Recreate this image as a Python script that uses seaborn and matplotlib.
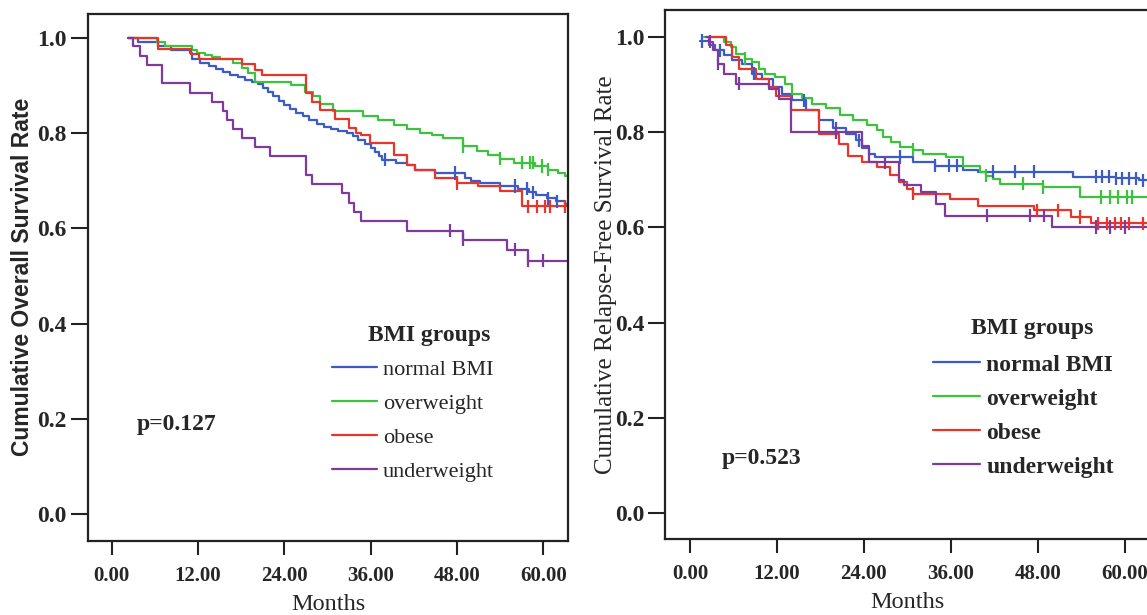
import numpy as np
import pandas as pd
import matplotlib
matplotlib.use("Agg")
import matplotlib.pyplot as plt
import seaborn as sns
from matplotlib.lines import Line2D

# ---------------- data ----------------
groups = ["normal BMI", "overweight", "obese", "underweight"]
colors = ["#3B5BC6", "#3DC23F", "#E8352C", "#7E3A9C"]

# Overall survival (left panel)
os_normal_t = [2.2, 3.6, 6.5, 8.3, 10.9, 11.2, 12.3, 13.5, 14.5, 15.5, 16.5, 17.5, 18.5, 19.5, 20.3,
               21.0, 21.8, 22.5, 23.2, 23.9, 24.8, 25.6, 26.6, 27.5, 28.5, 29.5, 30.5, 31.5, 32.7, 33.6,
               34.3, 35.2, 36.0, 36.6, 37.2, 37.6, 39.5, 41.0, 42.2, 45.0, 49.1, 50.0, 51.2, 54.0, 56.5,
               58.0, 59.0, 60.5, 61.8, 63.0]
os_normal_s = [1.0, 0.992, 0.982, 0.975, 0.968, 0.955, 0.947, 0.940, 0.934, 0.928, 0.922, 0.917, 0.912, 0.908, 0.902,
               0.895, 0.887, 0.878, 0.868, 0.859, 0.850, 0.843, 0.835, 0.828, 0.819, 0.813, 0.808, 0.805, 0.800, 0.793,
               0.786, 0.778, 0.768, 0.760, 0.751, 0.744, 0.738, 0.732, 0.723, 0.716, 0.705, 0.700, 0.695, 0.689, 0.683,
               0.676, 0.670, 0.663, 0.657, 0.652]
os_normal_c = [38.0, 47.7, 56.1, 57.7, 58.6, 60.7, 61.9]

os_over_t = [2.2, 6.3, 7.4, 11.1, 11.8, 13.0, 13.9, 15.0, 16.9, 18.1, 19.0, 19.9, 25.0, 26.9, 28.0,
             28.9, 30.8, 35.0, 37.1, 39.2, 41.0, 42.9, 44.5, 46.1, 48.9, 50.8, 52.4, 54.0, 55.9, 58.8,
             60.7, 62.0, 63.0]
os_over_s = [1.0, 0.992, 0.982, 0.975, 0.969, 0.964, 0.960, 0.955, 0.947, 0.936, 0.926, 0.908, 0.901, 0.887, 0.877,
             0.860, 0.847, 0.835, 0.827, 0.817, 0.808, 0.800, 0.795, 0.789, 0.772, 0.762, 0.754, 0.746, 0.738, 0.731,
             0.723, 0.717, 0.710]
os_over_c = [48.9, 54.0, 57.0, 58.2, 58.6, 59.8, 60.7]

os_obese_t = [2.2, 6.5, 11.0, 12.2, 18.1, 19.9, 20.9, 27.0, 27.9, 28.9, 31.1, 33.0, 34.0, 34.6, 35.9,
              39.2, 41.0, 42.2, 45.0, 48.0, 51.0, 54.0, 57.0]
os_obese_s = [1.0, 0.977, 0.966, 0.955, 0.946, 0.933, 0.922, 0.884, 0.866, 0.849, 0.829, 0.810, 0.800, 0.796, 0.779,
              0.754, 0.733, 0.723, 0.705, 0.695, 0.688, 0.678, 0.646]
os_obese_c = [48.0, 57.9, 59.1, 60.3, 61.0, 63.0]

os_under_t = [2.2, 2.9, 3.9, 4.9, 7.0, 10.9, 13.9, 15.5, 16.0, 16.9, 18.1, 19.9, 22.0, 27.0, 27.9,
              32.0, 33.0, 33.7, 34.7, 41.1, 48.9, 55.0, 57.9]
os_under_s = [1.0, 0.982, 0.961, 0.943, 0.905, 0.885, 0.866, 0.847, 0.828, 0.809, 0.789, 0.770, 0.751, 0.712, 0.693,
              0.674, 0.654, 0.635, 0.616, 0.595, 0.576, 0.555, 0.532]
os_under_c = [47.0, 48.9, 56.1, 57.9, 60.0]

# Relapse-free survival (right panel)
rfs_normal_t = [1.4, 2.6, 3.5, 4.7, 5.8, 7.2, 8.6, 10.0, 11.4, 12.7, 14.1, 16.0, 17.8, 19.7, 21.5,
                22.9, 23.8, 24.7, 25.5, 30.8, 33.8, 37.7, 39.8, 52.9, 58.8, 62.0]
rfs_normal_s = [0.992, 0.983, 0.972, 0.962, 0.951, 0.944, 0.923, 0.913, 0.895, 0.881, 0.867, 0.846, 0.825, 0.808, 0.797,
                0.783, 0.766, 0.755, 0.748, 0.737, 0.730, 0.720, 0.717, 0.707, 0.703, 0.699]
rfs_normal_c = [1.6, 4.2, 8.9, 15.8, 20.1, 23.3, 29.0, 33.8, 35.8, 36.9, 41.8, 44.8, 47.5,
                56.0, 56.9, 57.8, 58.8, 59.7, 60.6, 61.5, 62.5]

rfs_over_t = [2.0, 4.7, 5.6, 6.3, 7.6, 8.6, 9.5, 10.4, 11.7, 13.1, 14.1, 15.5, 16.9, 18.8, 20.7,
              22.5, 24.4, 25.8, 26.7, 27.8, 29.0, 30.8, 32.1, 35.4, 37.7, 40.0, 40.9, 41.8, 42.8, 48.7, 53.8]
rfs_over_s = [1.0, 0.990, 0.979, 0.965, 0.955, 0.947, 0.934, 0.923, 0.916, 0.902, 0.881, 0.871, 0.860, 0.850, 0.836,
              0.825, 0.816, 0.804, 0.790, 0.779, 0.770, 0.763, 0.755, 0.748, 0.730, 0.716, 0.709, 0.702, 0.692, 0.685, 0.664]
rfs_over_c = [7.6, 30.8, 40.9, 46.0, 48.7, 56.8, 58.0, 59.1, 60.3, 61.0]

rfs_obese_t = [2.6, 5.0, 5.8, 6.8, 9.1, 10.9, 11.9, 14.0, 17.8, 20.6, 21.8, 23.8, 25.8, 27.6, 28.8,
               30.0, 30.8, 35.9, 39.8, 47.5, 52.6, 55.3]
rfs_obese_s = [1.0, 0.983, 0.958, 0.934, 0.913, 0.895, 0.877, 0.846, 0.797, 0.776, 0.751, 0.738, 0.727, 0.710, 0.695,
               0.681, 0.671, 0.660, 0.646, 0.636, 0.622, 0.609]
rfs_obese_c = [30.8, 47.9, 50.8, 53.9, 56.3, 57.5, 58.6, 59.5, 60.6, 62.5]

rfs_under_t = [2.2, 2.6, 3.2, 3.9, 4.7, 6.3, 10.9, 12.3, 14.0, 23.8, 24.7, 28.8, 29.5, 31.9, 34.0, 35.2, 50.0]
rfs_under_s = [1.0, 0.990, 0.972, 0.944, 0.923, 0.902, 0.890, 0.870, 0.800, 0.772, 0.737, 0.700, 0.690, 0.674,
               0.650, 0.625, 0.601]
rfs_under_c = [2.8, 3.9, 6.8, 20.1, 26.9, 41.0, 47.0, 48.8, 56.0, 58.0, 60.1]

x_ticks = [0, 12, 24, 36, 48, 60]
y_ticks = [0.0, 0.2, 0.4, 0.6, 0.8, 1.0]
follow_up_end = 64.0

os_curves = [(os_normal_t, os_normal_s, os_normal_c), (os_over_t, os_over_s, os_over_c),
             (os_obese_t, os_obese_s, os_obese_c), (os_under_t, os_under_s, os_under_c)]
rfs_curves = [(rfs_normal_t, rfs_normal_s, rfs_normal_c), (rfs_over_t, rfs_over_s, rfs_over_c),
              (rfs_obese_t, rfs_obese_s, rfs_obese_c), (rfs_under_t, rfs_under_s, rfs_under_c)]


def build_frames(curves):
    lines, cens = [], []
    for g, (t, s, c) in zip(groups, curves):
        tt = list(t) + [follow_up_end]
        ss = list(s) + [s[-1]]
        lines.append(pd.DataFrame({"t": tt, "s": ss, "group": g}))
        ta = np.asarray(t)
        idx = np.searchsorted(ta, np.asarray(c), side="right") - 1
        cens.append(pd.DataFrame({"t": c, "s": np.asarray(s)[idx], "group": g}))
    return pd.concat(lines, ignore_index=True), pd.concat(cens, ignore_index=True)


# ---------------- style ----------------
sns.set_style("ticks")
plt.rcParams["font.family"] = ["Liberation Serif", "DejaVu Serif"]

W, H = 1147, 615
fig = plt.figure(figsize=(W / 100, H / 100), dpi=100)


def fx(px):
    return px / W


def fy(py):
    return 1 - py / H


ax1 = fig.add_axes([fx(87.7), fy(540.7), (568.3 - 87.7) / W, (540.7 - 14) / H])
ax2 = fig.add_axes([fx(665), fy(539), (1150 - 665) / W, (539 - 10) / H])

palette = dict(zip(groups, colors))

panels = [
    (ax1, os_curves, "Cumulative Overall Survival Rate", (-3.34, 63.5), (-0.056, 1.050),
     "p=0.127", (3.5, 0.189), (44.1, 0.374), False),
    (ax2, rfs_curves, "Cumulative Relapse-Free Survival Rate", (-3.45, 63.5), (-0.055, 1.057),
     "p=0.523", (4.4, 0.115), (47.3, 0.388), True),
]

for ax, curves, ylab, xl, yl, ptxt, ppos, tpos, bold_leg in panels:
    ldf, cdf = build_frames(curves)
    sns.lineplot(data=ldf, x="t", y="s", hue="group", palette=palette, hue_order=groups,
                 estimator=None, sort=False, drawstyle="steps-post", linewidth=1.6,
                 legend=False, ax=ax)
    sns.scatterplot(data=cdf, x="t", y="s", hue="group", palette=palette, hue_order=groups,
                    marker="|", s=90, linewidth=1.6, legend=False, ax=ax, zorder=3)
    ax.set_xlim(*xl)
    ax.set_ylim(*yl)
    ax.set_xticks(x_ticks)
    ax.set_xticklabels([f"{v:.2f}" for v in x_ticks])
    ax.set_yticks(y_ticks)
    ax.set_yticklabels([f"{v:.1f}" for v in y_ticks])
    for lab in ax.get_xticklabels():
        lab.set_fontweight("bold")
        lab.set_fontsize(15)
    for lab in ax.get_yticklabels():
        lab.set_fontweight("bold")
        lab.set_fontsize(17)
    ax.tick_params(axis="x", length=10, width=1.5, pad=8, color="#222222")
    ax.tick_params(axis="y", length=12, width=1.5, pad=3, color="#222222")
    for sp in ax.spines.values():
        sp.set_linewidth(1.6)
        sp.set_color("#222222")
    ax.set_xlabel("Months", fontsize=17.5)
    ax.xaxis.set_label_coords(0.5, -0.101)
    if bold_leg:
        ax.set_ylabel(ylab, fontsize=18)
        ax.yaxis.set_label_coords(-0.099, 0.5)
    else:
        ax.set_ylabel(ylab, fontsize=16.5, fontweight="bold", family=["Liberation Sans", "DejaVu Sans"])
        ax.yaxis.set_label_coords(-0.112, 0.5)

    ax.text(ppos[0], ppos[1], ptxt, fontsize=17, fontweight="bold", ha="left", va="center")
    ax.text(tpos[0], tpos[1], "BMI groups", fontsize=17, fontweight="bold", ha="center", va="center")

    handles = [Line2D([], [], color=c, lw=1.6) for c in colors]
    if bold_leg:
        anchor = (fx(933), fy(354))
        prop = {"size": 17, "weight": "bold"}
        hl = 47 / 23.6
        ls = 0.53
    else:
        anchor = (fx(331.7), fy(359.5))
        prop = {"size": 16}
        hl = 45 / 22.2
        ls = 0.60
    ax.legend(handles, groups, loc="upper left", bbox_to_anchor=anchor, bbox_transform=fig.transFigure,
              frameon=False, borderpad=0, borderaxespad=0, handlelength=hl, handletextpad=0.27,
              labelspacing=ls, prop=prop)

fig.savefig("out.png", dpi=100)
